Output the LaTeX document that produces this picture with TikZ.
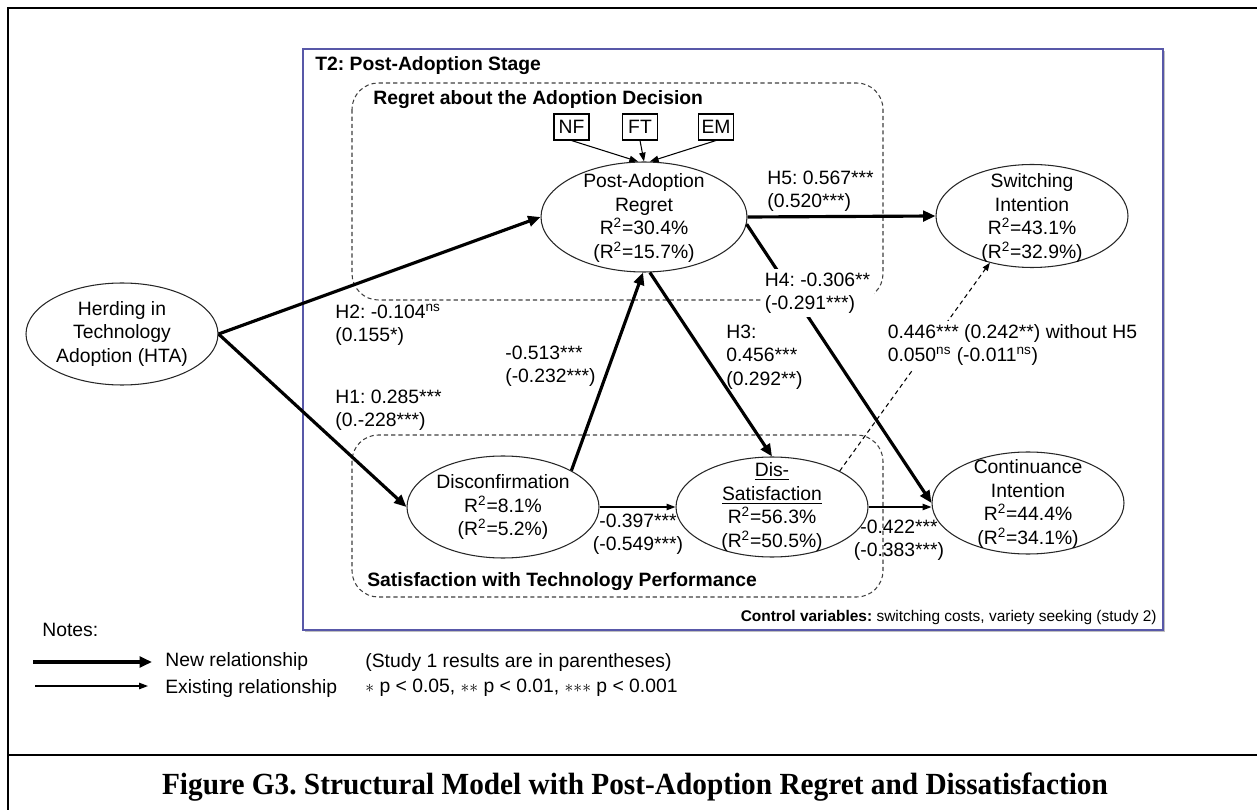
\documentclass[tikz,border=0pt]{standalone}
\usepackage{fontspec}
\usepackage{graphicx}
\setmainfont{Liberation Sans}
\newfontfamily\capfont{Liberation Serif}
\usetikzlibrary{arrows.meta,shapes.geometric,shadows}
\definecolor{stageblue}{RGB}{88,88,168}
\newcommand\sigstar{{\fontsize{10}{10}\selectfont$\ast$}}
\frenchspacing
\begin{document}
\begin{tikzpicture}[x=0.02cm,y=-0.02cm,
  every node/.style={font=\fontsize{11}{13.3}\selectfont, inner sep=0pt},
  construct/.style={draw=black!85, line width=0.6pt, ellipse,
    minimum width=192*0.02cm, minimum height=102*0.02cm},
  ctext/.style={align=center},
  ind/.style={draw, line width=0.6pt, minimum width=35*0.02cm, minimum height=26*0.02cm},
  newrel/.style={line width=1.8pt, -{Triangle[length=7pt,width=6pt]}},
  oldrel/.style={line width=0.7pt, -{Triangle[length=5pt,width=3.6pt]}},
  altrel/.style={line width=0.6pt, dash pattern=on 2.5pt off 2pt, -{Triangle[length=4.5pt,width=3.4pt]}},
  grp/.style={draw=black!75, line width=0.6pt, dash pattern=on 2.4pt off 1.7pt, rounded corners=15pt},
  grptitle/.style={anchor=west, font=\fontsize{11}{13.3}\selectfont\bfseries},
  coef/.style={anchor=west, align=left},
  coefc/.style={align=center},
  mask/.style={fill=white, inner sep=2pt},
]
\useasboundingbox (0,0) rectangle (1257,810);

% page frame and caption rule
\draw[line width=1.1pt] (8,810) -- (8,8) -- (1257,8);
\draw[line width=1.6pt] (8,755) -- (1257,755);

% post-adoption stage panel
\draw[draw=stageblue, line width=0.8pt, fill=white,
  drop shadow={shadow xshift=1.2pt, shadow yshift=-1.2pt, fill=black, opacity=0.25}]
  (303,49) rectangle (1163,630);
\node[grptitle] (stage) at (315,66) {T2: Post-Adoption Stage};

% construct groups
\draw[grp] (352,83) rectangle (883,300);
\node[grptitle] (regretgrp) at (373,100) {Regret about the Adoption Decision};
\draw[grp] (352,435) rectangle (883,597);
\node[grptitle] (satgrp) at (367,582) {Satisfaction with Technology Performance};

% constructs
\node[construct] (hta) at (122,334) {};
\node[ctext] (hta-t) at (hta) {Herding in\\Technology\\Adoption (HTA)};

\node[construct, minimum width=206*0.02cm, minimum height=110*0.02cm] (par) at (644,217) {};
\node[ctext] (par-t) at (644,218) {Post-Adoption\\Regret\\R\textsuperscript{2}=30.4\%\\(R\textsuperscript{2}=15.7\%)};

\node[construct, minimum height=103*0.02cm] (sw) at (1032,216) {};
\node[ctext] (sw-t) at (1032,218) {Switching\\Intention\\R\textsuperscript{2}=43.1\%\\(R\textsuperscript{2}=32.9\%)};

\node[construct] (disc) at (503,507) {};
\node[ctext] (disc-t) at (disc) {Disconfirmation\\R\textsuperscript{2}=8.1\%\\(R\textsuperscript{2}=5.2\%)};

\node[construct, minimum height=100*0.02cm] (dissat) at (772,507) {};
\node[ctext] (dissat-t) at (dissat) {\underline{Dis-}\\\underline{Satisfaction}\\R\textsuperscript{2}=56.3\%\\(R\textsuperscript{2}=50.5\%)};

\node[construct] (cont) at (1028,503) {};
\node[ctext] (cont-t) at (1028,504) {Continuance\\Intention\\R\textsuperscript{2}=44.4\%\\(R\textsuperscript{2}=34.1\%)};

% regret indicators
\node[ind] (nf) at (571.5,127) {NF};
\node[ind] (ft) at (640,127) {FT};
\node[ind] (em) at (716,127) {EM};
\draw[oldrel, line width=0.6pt] (nf.south) -- (par.96);
\draw[oldrel, line width=0.6pt] (ft.south) -- (par.north);
\draw[oldrel, line width=0.6pt] (em.south) -- (par.84);

% structural paths
\draw[newrel] (hta.east) -- (par.west);
\draw[newrel] (hta.east) -- (disc.west);
\draw[newrel] (disc.28) -- (par.-91);
\draw[newrel] (par.-84) -- (dissat.north);
\draw[newrel] (par.east) -- (sw.west);
\draw[newrel] (par.-4) -- (cont.west);
\draw[oldrel] (disc.east) -- (dissat.west);
\draw[oldrel] (dissat.east) -- (dissat.east -| cont.west);
\draw[altrel] (dissat.28) -- (sw.-132);

% path coefficients
\node[coef] (c-h5) at (767,191.5) {H5: 0.567***\\(0.520***)};
\node[coef, mask] (c-h4) at (761,293) {H4: -0.306**\\(-0.291***)};
\node[coef] (c-h3) at (726,357) {H3:\\0.456***\\(0.292**)};
\node[coef, mask] (c-alt) at (884,345) {0.446*** (0.242**) without H5\\0.050\textsuperscript{ns} (-0.011\textsuperscript{ns})};
\node[coef] (c-h2) at (335,325) {H2: -0.104\textsuperscript{ns}\\(0.155*)};
\node[coef] (c-h1) at (335,410) {H1: 0.285***\\(0.-228***)};
\node[coef] (c-dp) at (505,366) {-0.513***\\(-0.232***)};
\node[coefc] (c-ds) at (638,534.5) {-0.397***\\(-0.549***)};
\node[coefc] (c-sc) at (899,540.5) {-0.422***\\(-0.383***)};

\node[anchor=east, font=\fontsize{8.8}{10}\selectfont] (ctrl) at (1157,618)
  {\textbf{Control variables:} switching costs, variety seeking (study 2)};

% notes and legend
\node[anchor=west] (notes) at (42,630) {Notes:};
\coordinate (lg1a) at (33,662);
\coordinate (lg1b) at (152,662);
\coordinate (lg2a) at (35,686);
\coordinate (lg2b) at (148,686);
\draw[newrel] (lg1a) -- (lg1b);
\draw[oldrel] (lg2a) -- (lg2b);
\node[anchor=west] (lg-new) at (165,662) {New relationship};
\node[anchor=west] (lg-old) at (165,689) {Existing relationship};
\node[anchor=west] (lg-study) at (365,663) {(Study 1 results are in parentheses)};
\node[anchor=west] (lg-sig) at (365,688)
  {\sigstar{} p {\textless} 0.05, \sigstar\sigstar{} p {\textless} 0.01, \sigstar\sigstar\sigstar{} p {\textless} 0.001};

% caption
\node[anchor=base] (caption) at (635,794)
  {\resizebox{18.92cm}{\height}{\capfont\bfseries\fontsize{17.5}{20}\selectfont Figure G3. Structural Model with Post-Adoption Regret and Dissatisfaction}};
\end{tikzpicture}
\end{document}
